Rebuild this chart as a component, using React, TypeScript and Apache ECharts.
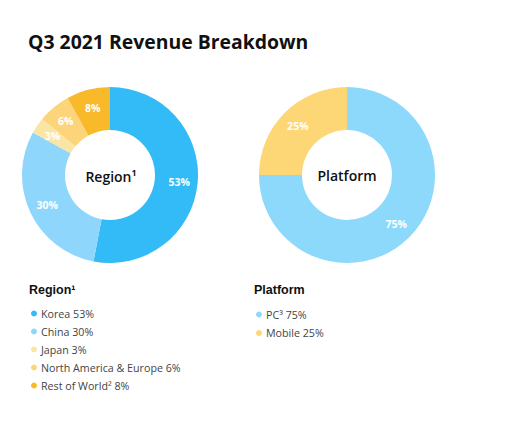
import React, { useEffect, useRef } from "react";
import * as echarts from "echarts";

const regionNames = ["Korea", "China", "Japan", "North America & Europe", "Rest of World²"];
const regionValues = [53, 30, 3, 6, 8];
const regionColors = ["#33BBF7", "#8ED6FB", "#FBE5A5", "#FCD57A", "#F8B92B"];

const platformNames = ["PC³", "Mobile"];
const platformValues = [75, 25];
const platformColors = ["#8CD9FB", "#FDD675"];

const FONT = "'Open Sans', sans-serif";

export default function App() {
  const ref = useRef<HTMLDivElement>(null);
  useEffect(() => {
    if (!ref.current) return;
    const chart = echarts.init(ref.current, null, { renderer: "svg" });
    const valueOf: Record<string, number> = {};
    regionNames.forEach((n, i) => (valueOf[n] = regionValues[i]));
    platformNames.forEach((n, i) => (valueOf[n] = platformValues[i]));

    const pieLabel = {
      show: true,
      position: "inside",
      formatter: "{c}%",
      color: "#ffffff",
      fontSize: 10.5,
      fontWeight: "bold",
      fontFamily: FONT,
    };

    const legendText = { fontFamily: FONT, fontSize: 10.7, color: "#444444", padding: [0, 0, 0, -1] };

    chart.setOption({
      animation: false,
      backgroundColor: "#ffffff",
      title: {
        text: "Q3 2021 Revenue Breakdown",
        left: 23,
        top: 27,
        textStyle: { fontFamily: FONT, fontSize: 19.4, fontWeight: "bold", color: "#111111" },
      },
      legend: [
        {
          data: regionNames,
          orient: "vertical",
          left: 26,
          top: 303,
          icon: "circle",
          itemWidth: 6,
          itemHeight: 6,
          itemGap: 7,
          selectedMode: false,
          formatter: (n: string) => `${n} ${valueOf[n]}%`,
          textStyle: legendText,
        },
        {
          data: platformNames,
          orient: "vertical",
          left: 251,
          top: 304,
          icon: "circle",
          itemWidth: 6,
          itemHeight: 6,
          itemGap: 7.5,
          selectedMode: false,
          formatter: (n: string) => `${n} ${valueOf[n]}%`,
          textStyle: legendText,
        },
      ],
      graphic: [
        {
          type: "text",
          left: 29,
          top: 283,
          style: { text: "Region¹", font: "bold 12.5px 'Liberation Sans', Arial, sans-serif", fill: "#111111" },
        },
        {
          type: "text",
          left: 254,
          top: 283,
          style: { text: "Platform", font: "bold 12.5px 'Liberation Sans', Arial, sans-serif", fill: "#111111" },
        },
        {
          type: "text",
          x: 111,
          y: 176,
          style: {
            text: "Region¹",
            font: "600 14px 'Open Sans', sans-serif",
            fill: "#111111",
            align: "center",
            verticalAlign: "middle",
          },
        },
        {
          type: "text",
          x: 347,
          y: 175,
          style: {
            text: "Platform",
            font: "600 14px 'Open Sans', sans-serif",
            fill: "#111111",
            align: "center",
            verticalAlign: "middle",
          },
        },
      ],
      series: [
        {
          type: "pie",
          center: [110, 175],
          radius: [45, 88],
          startAngle: 90,
          clockwise: true,
          label: pieLabel,
          labelLine: { show: false },
          emphasis: { disabled: true },
          data: regionNames.map((n, i) => ({
            name: n,
            value: regionValues[i],
            itemStyle: { color: regionColors[i] },
          })),
        },
        {
          type: "pie",
          center: [347, 175],
          radius: [45, 88],
          startAngle: 90,
          clockwise: true,
          label: pieLabel,
          labelLine: { show: false },
          emphasis: { disabled: true },
          data: platformNames.map((n, i) => ({
            name: n,
            value: platformValues[i],
            itemStyle: { color: platformColors[i] },
          })),
        },
      ],
    });
    return () => chart.dispose();
  }, []);
  return <div ref={ref} style={{ position: "fixed", left: 0, top: 0, width: 530, height: 421 }} />;
}
